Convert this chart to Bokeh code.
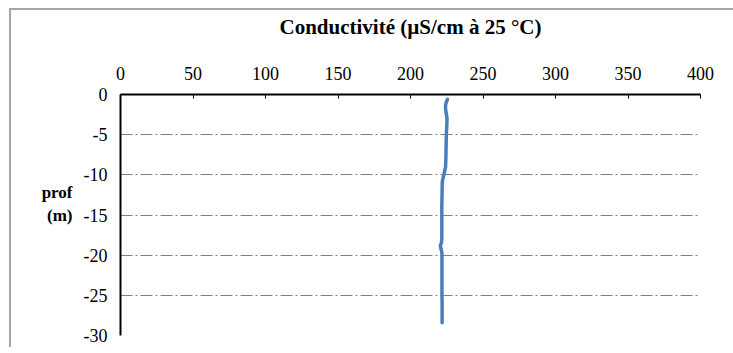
from bokeh.plotting import figure
from bokeh.models import FixedTicker
from bokeh.embed import file_html
from bokeh.resources import INLINE

# Conductivity profile (µS/cm at 25 °C) against depth (m)
depth = [-0.6, -1.0, -1.5, -2.0, -2.5, -3.0, -4.0, -5.0, -6.0, -7.0, -8.0, -9.0,
         -10.0, -10.5, -11.0, -12.0, -13.0, -14.0, -15.0, -16.0, -17.0, -18.0,
         -18.5, -18.8, -19.2, -19.6, -20.0, -21.0, -22.0, -23.0, -24.0, -25.0,
         -26.0, -27.0, -28.0, -28.4]
conductivity = [225.5, 224.6, 224.1, 224.3, 224.8, 225.2, 225.0, 224.7, 224.6, 224.5,
                224.4, 224.2, 223.0, 222.3, 221.9, 221.8, 221.7, 221.6, 221.6, 221.6,
                221.6, 221.6, 221.3, 220.6, 221.0, 221.6, 221.7, 221.7, 221.7, 221.7,
                221.7, 221.7, 221.8, 221.8, 221.8, 221.8]

x_ticks = [0, 50, 100, 150, 200, 250, 300, 350, 400]
y_ticks = [0, -5, -10, -15, -20, -25, -30]
y_tick_labels = ["0", "-5", "-10", "-15", "-20", "-25", "-30"]

FONT = "Liberation Serif"

p = figure(frame_width=580, frame_height=241, x_range=(0, 400), y_range=(-30, 0),
           x_axis_location="above", output_backend="svg", toolbar_location=None,
           min_border_left=109, min_border_top=84, min_border_right=33,
           min_border_bottom=12)
p.outline_line_color = None
p.background_fill_color = "white"
p.border_fill_color = "white"
# thin grey frame around the chart area
p.margin = (8, 0, 0, 9)
p.styles = {"border-top": "2px solid #a6a6a6", "border-left": "2px solid #a6a6a6",
            "border-right": "none", "border-bottom": "none"}

# top axis
xa = p.xaxis[0]
xa.ticker = FixedTicker(ticks=x_ticks)
xa.axis_line_color = "black"
xa.axis_line_width = 2
xa.major_tick_in = 4
xa.major_tick_out = 0
xa.major_tick_line_color = "black"
xa.minor_tick_line_color = None
xa.major_label_text_font = FONT
xa.major_label_text_font_size = "18px"
xa.major_label_text_color = "black"
xa.major_label_standoff = 15
xa.axis_label = "Conductivité (µS/cm à 25 °C)"
xa.axis_label_text_font = FONT
xa.axis_label_text_font_size = "21px"
xa.axis_label_text_font_style = "bold"
xa.axis_label_text_color = "black"
xa.axis_label_standoff = 25

# left axis
ya = p.yaxis[0]
ya.ticker = FixedTicker(ticks=y_ticks)
ya.major_label_overrides = dict(zip(y_ticks, y_tick_labels))
ya.axis_line_color = "black"
ya.axis_line_width = 2
ya.major_tick_in = 0
ya.major_tick_out = 0
ya.minor_tick_line_color = None
ya.major_label_text_font = FONT
ya.major_label_text_font_size = "18px"
ya.major_label_text_color = "black"
ya.major_label_standoff = 13
ya.axis_label = "prof\n(m)\n"
ya.axis_label_orientation = "horizontal"
ya.axis_label_text_font = FONT
ya.axis_label_text_font_size = "17px"
ya.axis_label_text_font_style = "bold"
ya.axis_label_text_color = "black"
ya.axis_label_text_align = "center"
ya.axis_label_standoff = 8

p.xgrid.grid_line_color = None
p.ygrid.ticker = FixedTicker(ticks=[-5, -10, -15, -20, -25, -30])
p.ygrid.grid_line_color = "#808080"
p.ygrid.grid_line_width = 1
p.ygrid.grid_line_dash = "12 3 2 3"

p.line(conductivity, depth, line_color="#4a7ebb", line_width=3.5, line_cap="round",
       line_join="round")

open("out.html", "w").write(file_html(p, INLINE))
